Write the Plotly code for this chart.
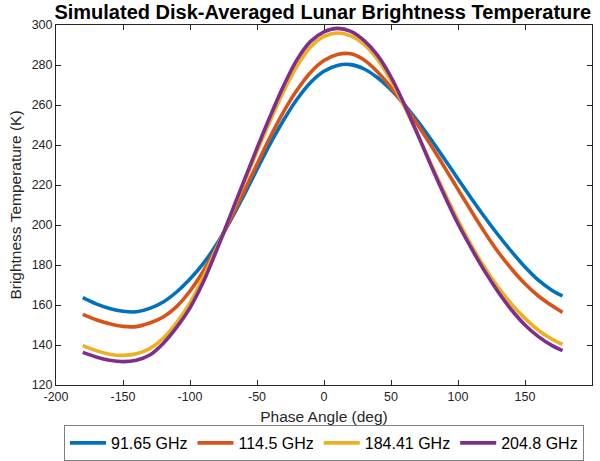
import plotly.graph_objects as go

phase = [-180, -170, -160, -150, -140, -130, -120, -110, -100, -90, -80, -70, -60, -50, -40,
         -30, -20, -10, 0, 10, 20, 30, 40, 50, 60, 70, 80, 90, 100, 110, 120, 130, 140,
         150, 160, 170, 178]

tb_91 = [163.7, 160.6, 158.3, 156.9, 156.6, 158.3, 161.5, 166.5, 173.0, 180.8, 190.5, 202.0,
         214.5, 227.8, 240.8, 252.6, 263.0, 271.3, 276.9, 279.8, 280.2, 278.0, 273.6, 267.6,
         260.2, 251.8, 242.6, 232.9, 223.0, 213.3, 203.9, 195.0, 186.7, 179.0, 172.4, 167.4, 164.5]

tb_114 = [155.3, 152.6, 150.6, 149.3, 149.2, 151.0, 154.0, 159.2, 167.0, 177.0, 189.0, 202.6,
          216.4, 230.4, 244.2, 256.8, 267.6, 276.3, 282.2, 285.2, 285.6, 282.5, 276.5, 268.8,
          259.9, 250.0, 239.6, 228.8, 217.8, 206.9, 196.3, 186.5, 178.0, 170.6, 164.5, 159.7, 156.3]

tb_184 = [139.7, 137.2, 135.4, 134.8, 135.6, 138.2, 143.3, 151.2, 161.0, 174.0, 188.6, 204.2,
          220.6, 236.8, 252.4, 267.0, 279.6, 289.0, 294.3, 296.0, 294.6, 290.2, 282.8, 272.2,
          259.3, 245.0, 230.4, 216.0, 202.4, 189.8, 178.6, 168.8, 160.4, 153.3, 147.4, 143.0, 140.3]

tb_204 = [136.3, 134.0, 132.4, 131.7, 132.4, 135.0, 140.8, 148.8, 158.6, 171.6, 187.6, 204.6,
          221.6, 238.4, 254.6, 269.8, 282.8, 291.8, 296.6, 298.3, 296.8, 292.2, 284.8, 274.0,
          260.3, 245.2, 229.5, 214.6, 200.6, 188.3, 176.8, 166.5, 157.5, 150.0, 144.2, 139.8, 137.2]

series_names = ["91.65 GHz", "114.5 GHz", "184.41 GHz", "204.8 GHz"]
series_colors = ["#0072BD", "#D95319", "#EDB120", "#7E2F8E"]
series_values = [tb_91, tb_114, tb_184, tb_204]

x_ticks = [-200, -150, -100, -50, 0, 50, 100, 150, 200]
y_ticks = [120, 140, 160, 180, 200, 220, 240, 260, 280, 300]

FONT = "Liberation Sans, Arial, Helvetica, sans-serif"
AX = "#262626"

fig = go.Figure()
for name, col, vals in zip(series_names, series_colors, series_values):
    fig.add_trace(go.Scatter(x=phase, y=vals, mode="lines", name=name,
                             line=dict(color=col, width=3.6, shape="spline", smoothing=1.0)))

fig.update_layout(
    width=600, height=461,
    margin=dict(l=56, r=8, t=25, b=76, autoexpand=False),
    paper_bgcolor="white", plot_bgcolor="white",
    font=dict(family=FONT, color=AX, size=12),
    title=dict(text="<b>Simulated Disk-Averaged Lunar Brightness Temperature</b>",
               x=0.538, xanchor="center", y=1 - 12 / 461, yanchor="middle",
               font=dict(family=FONT, size=20, color="black")),
    showlegend=True,
    legend=dict(orientation="h", x=0.5, xanchor="center", y=-0.111, yanchor="top",
                bordercolor="#7f7f7f", borderwidth=1, bgcolor="white",
                font=dict(family=FONT, size=16, color="black"),
                itemwidth=36, tracegroupgap=0),
)
fig.update_xaxes(range=[-200, 200], tickvals=x_ticks, ticktext=[str(v) for v in x_ticks],
                 showgrid=False, zeroline=False, showline=True, linecolor=AX, linewidth=1,
                 mirror="ticks", ticks="inside", ticklen=5, tickcolor=AX, automargin=False,
                 tickfont=dict(size=12.5, color=AX),
                 title=dict(text="Phase Angle (deg)", font=dict(size=15.5, color=AX), standoff=8))
fig.update_yaxes(range=[120, 300], tickvals=y_ticks, ticktext=[str(v) for v in y_ticks],
                 showgrid=False, zeroline=False, showline=True, linecolor=AX, linewidth=1,
                 mirror="ticks", ticks="inside", ticklen=5, tickcolor=AX, automargin=False,
                 tickfont=dict(size=12.5, color=AX),
                 title=dict(text="Brightness Temperature (K)", font=dict(size=15.5, color=AX), standoff=6))

fig.write_html("out.html")
